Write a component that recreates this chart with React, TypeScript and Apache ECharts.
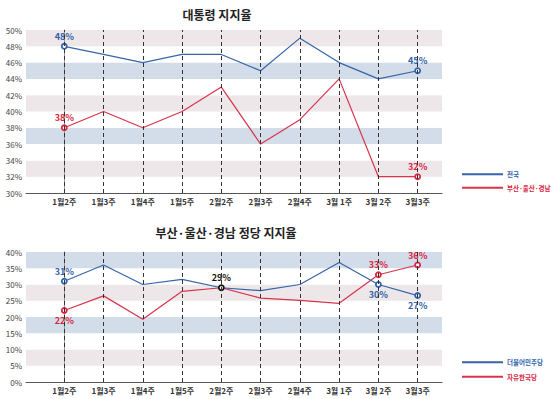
import React, { useEffect, useRef } from "react";
import * as echarts from "echarts";

const categories = ["1월2주", "1월3주", "1월4주", "1월5주", "2월2주", "2월3주", "2월4주", "3월 1주", "3월 2주", "3월3주"];
const nationalApproval = [48, 47, 46, 47, 47, 45, 49, 46, 44, 45];
const pukApproval = [38, 40, 38, 40, 43, 36, 39, 44, 32, 32];
const democraticParty = [31, 36, 30, 31.6, 29, 28.1, 30, 36.8, 30, 26.6];
const libertyKoreaParty = [22, 26.5, 19.3, 27.9, 29, 25.8, 25.1, 24.2, 33, 36];

const BLUE = "#3565a8";
const RED = "#d8334b";
const BLUE_T = "#2f62aa";
const RED_T = "#d8243f";
const BAND_COLORS = ["#ffffff", "#ede7ea", "#ffffff", "#d3dde9"];
const FONT = "'Noto Sans CJK KR', 'Noto Sans', sans-serif";

type Mark = { idx: number; pos: "top" | "bottom"; color: string; text?: string };

function buildData(values: number[], marks: Mark[]) {
  return values.map((v, i) => {
    const m = marks.find((mm) => mm.idx === i);
    if (!m) return { value: [i, v], symbol: "none" };
    return {
      value: [i, v],
      symbol: "circle",
      symbolSize: 5,
      itemStyle: { color: "#fff", borderColor: m.color, borderWidth: 1.8 },
      label: {
        show: true,
        position: m.pos,
        distance: 2,
        color: m.color,
        fontSize: 9,
        fontWeight: "bold",
        fontFamily: FONT,
        formatter: m.text ?? `${Math.round(v)}%`,
      },
    };
  });
}

export default function App() {
  const ref = useRef<HTMLDivElement>(null);
  useEffect(() => {
    if (!ref.current) return;
    const chart = echarts.init(ref.current, undefined, { renderer: "svg" });
    const idxs = categories.map((_, i) => i);
    const xAxisBase = (gridIndex: number) => ({
      type: "value",
      gridIndex,
      min: -0.975,
      max: 9.62,
      axisLine: { show: true, onZero: false, lineStyle: { color: "#555", width: 1 } },
      axisTick: { show: false },
      splitLine: { show: false },
      axisLabel: {
        customValues: idxs,
        formatter: (v: number) => categories[Math.round(v)] ?? "",
        fontSize: 8,
        fontWeight: "bold",
        color: "#333",
        fontFamily: FONT,
        margin: 4,
      },
    });
    const yAxisBase = (gridIndex: number, min: number, max: number, interval: number) => ({
      type: "value",
      gridIndex,
      min,
      max,
      interval,
      axisLine: { show: true, lineStyle: { color: "#999", width: 1 } },
      axisTick: { show: false },
      splitLine: { show: false },
      splitArea: { show: true, areaStyle: { color: BAND_COLORS } },
      axisLabel: {
        formatter: "{value}%",
        fontSize: 8,
        color: "#444",
        fontFamily: FONT,
        margin: 4,
      },
    });
    const markLine = {
      silent: true,
      symbol: "none",
      label: { show: false },
      lineStyle: { color: "#333", type: [4, 3], width: 1 },
      data: idxs.map((i) => ({ xAxis: i })),
    };
    const lineBase = { type: "line", symbol: "none", lineStyle: { width: 1.2 }, z: 3 };
    const legendBase = {
      orient: "vertical",
      left: 462,
      padding: 0,
      itemWidth: 41,
      itemHeight: 2,
      icon: "rect",
      textStyle: { fontSize: 6.5, fontFamily: FONT, fontWeight: "bold", padding: [0, 0, 0, -1] },
    };
    chart.setOption({
      animation: false,
      title: [
        { text: "대통령 지지율", left: 212, top: 3, textAlign: "center", textStyle: { fontSize: 12, fontWeight: "bold", color: "#222", fontFamily: FONT } },
        { text: "부산·울산·경남 정당 지지율", left: 221, top: 221, textAlign: "center", textStyle: { fontSize: 12, fontWeight: "bold", color: "#222", fontFamily: FONT } },
      ],
      grid: [
        { left: 26, top: 30, width: 416, height: 163 },
        { left: 26, top: 252, width: 416, height: 130 },
      ],
      xAxis: [xAxisBase(0), xAxisBase(1)],
      yAxis: [yAxisBase(0, 30, 50, 2), yAxisBase(1, 0, 40, 5)],
      legend: [
        {
          ...legendBase,
          top: 171,
          itemGap: 7,
          data: [
            { name: "전국", textStyle: { color: BLUE_T } },
            { name: "부산·울산·경남", textStyle: { color: RED_T } },
          ],
        },
        {
          ...legendBase,
          top: 359,
          itemGap: 8,
          data: [
            { name: "더불어민주당", textStyle: { color: BLUE_T } },
            { name: "자유한국당", textStyle: { color: RED_T } },
          ],
        },
      ],
      series: [
        {
          ...lineBase,
          name: "전국",
          xAxisIndex: 0,
          yAxisIndex: 0,
          color: BLUE,
          data: buildData(nationalApproval, [
            { idx: 0, pos: "top", color: BLUE_T },
            { idx: 9, pos: "top", color: BLUE_T },
          ]),
          markLine,
        },
        {
          ...lineBase,
          name: "부산·울산·경남",
          xAxisIndex: 0,
          yAxisIndex: 0,
          color: RED,
          data: buildData(pukApproval, [
            { idx: 0, pos: "top", color: RED_T },
            { idx: 9, pos: "top", color: RED_T },
          ]),
        },
        {
          ...lineBase,
          name: "자유한국당",
          xAxisIndex: 1,
          yAxisIndex: 1,
          color: RED,
          data: buildData(libertyKoreaParty, [
            { idx: 0, pos: "bottom", color: RED_T },
            { idx: 8, pos: "top", color: RED_T },
            { idx: 9, pos: "top", color: RED_T },
          ]),
          markLine,
        },
        {
          ...lineBase,
          name: "더불어민주당",
          xAxisIndex: 1,
          yAxisIndex: 1,
          color: BLUE,
          data: buildData(democraticParty, [
            { idx: 0, pos: "top", color: BLUE_T },
            { idx: 4, pos: "top", color: "#111" },
            { idx: 8, pos: "bottom", color: BLUE_T },
            { idx: 9, pos: "bottom", color: BLUE_T, text: "27%" },
          ]),
        },
      ],
    });
    return () => chart.dispose();
  }, []);
  return <div ref={ref} style={{ width: 560, height: 399, position: "absolute", left: 0, top: 0 }} />;
}
